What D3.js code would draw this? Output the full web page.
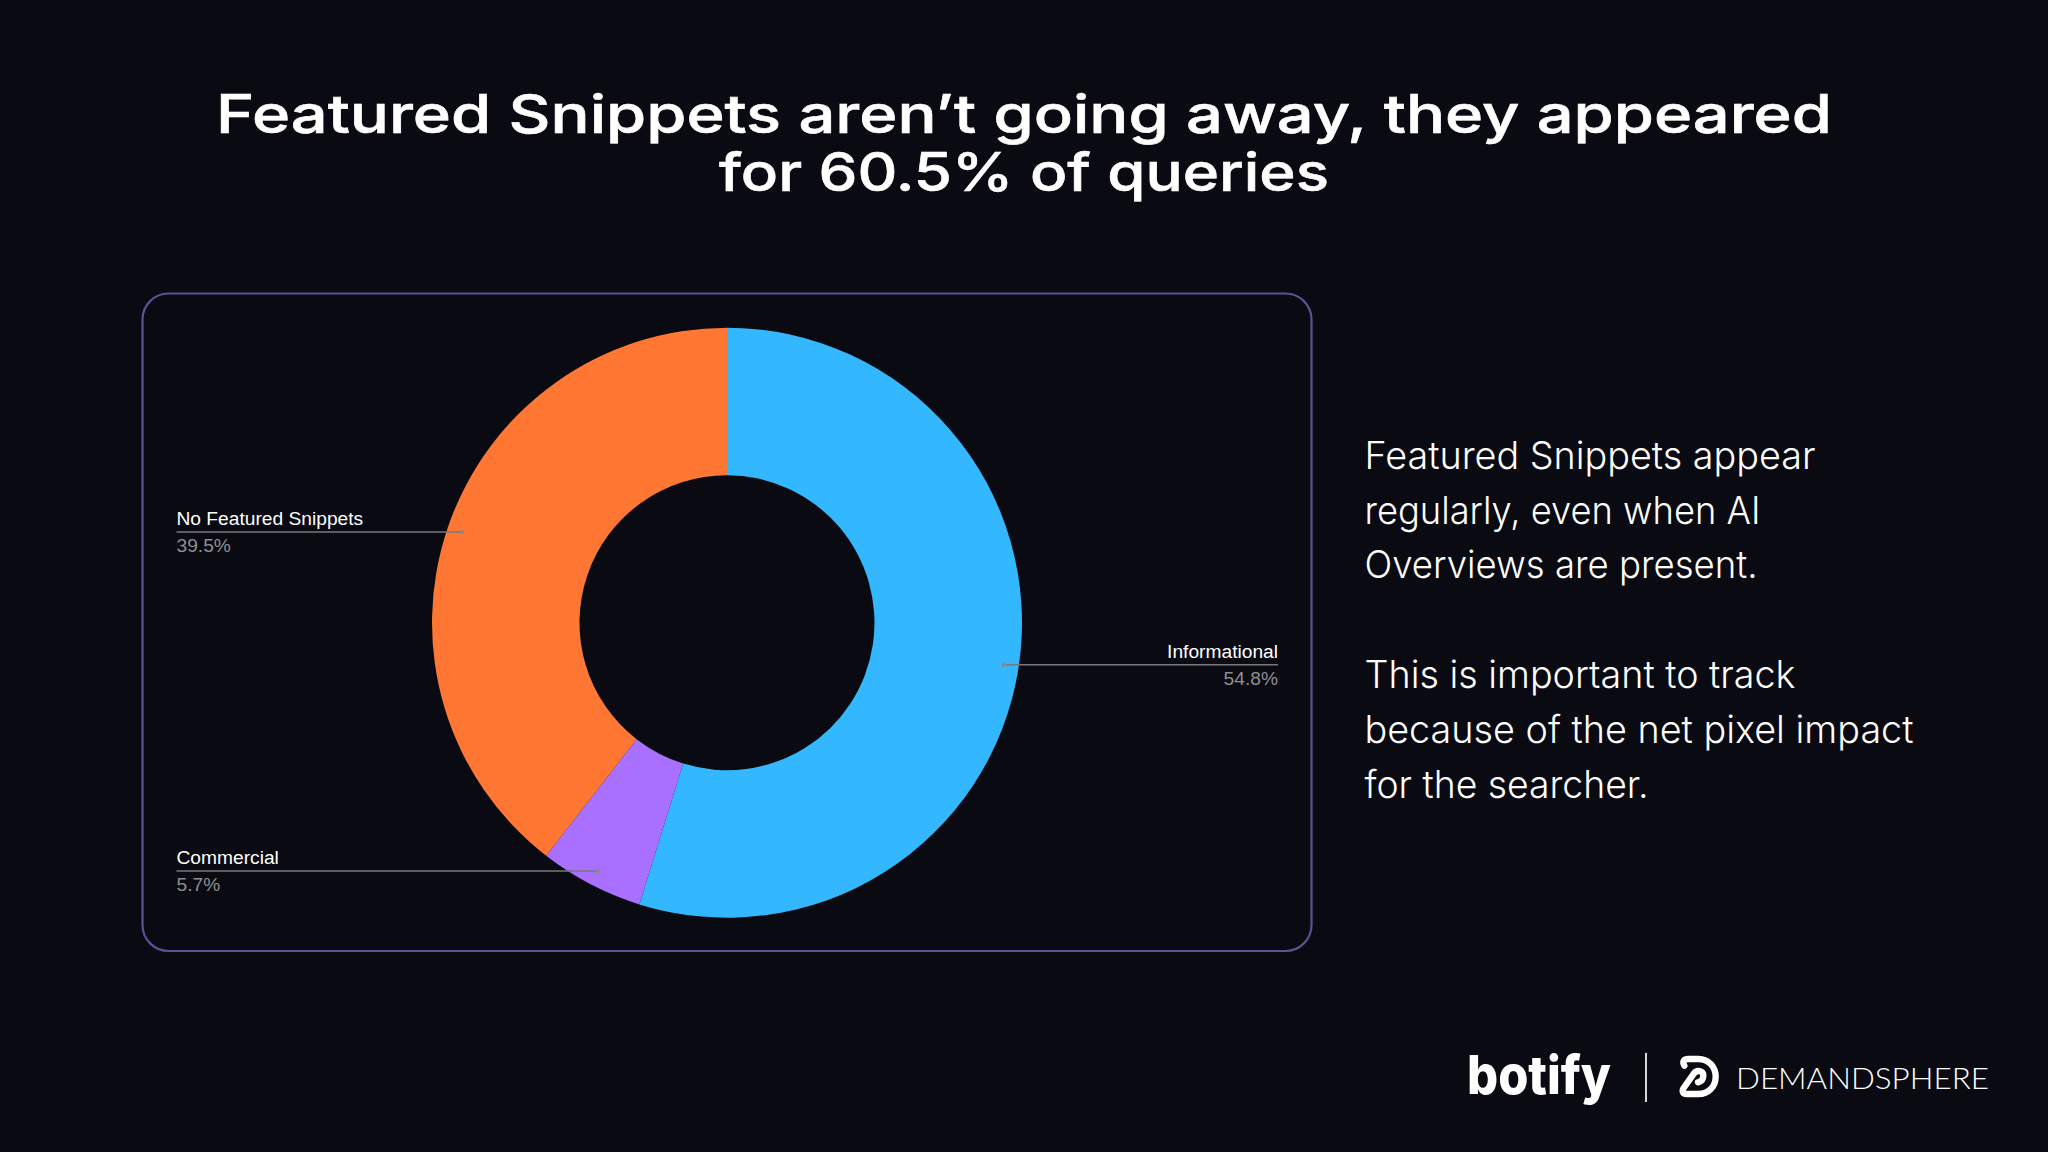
<!DOCTYPE html>
<html>
<head>
<meta charset="utf-8">
<script src="https://cdn.jsdelivr.net/npm/d3@7"></script>
<style>
  html, body { margin: 0; padding: 0; background: #0a0a12; }
  svg { display: block; }
</style>
</head>
<body>
<svg class="chart" width="2048" height="1152"></svg>
<script>
const categories = ['Informational', 'Commercial', 'No Featured Snippets']
const shares = [54.8, 5.7, 39.5]
const colors = ['#33b8ff', '#a970ff', '#ff7733']
// which side of the card each label sits on
const labelSides = ['right', 'left', 'left']

const titleLines = ['Featured Snippets aren’t going away, they appeared', 'for 60.5% of queries']
const titleWidths = [1616, 610]
const bodyLines = [
    'Featured Snippets appear',
    'regularly, even when AI',
    'Overviews are present.',
    '',
    'This is important to track',
    'because of the net pixel impact',
    'for the searcher.'
]
const bodyWidths = [451, 396, 393, 0, 431, 549, 284]

const svg = d3.select('.chart')
const cx = 727, cy = 622.7, outer = 295, inner = 147.5

svg.append('rect')
    .attr('width', 2048)
    .attr('height', 1152)
    .attr('fill', '#0a0a12')

// title
svg.append('g')
    .selectAll('text')
    .data(titleLines)
    .join('text')
        .text(d => d)
        .attr('x', 1024)
        .attr('y', (d, i) => 133 + i * 58)
        .attr('text-anchor', 'middle')
        .attr('textLength', (d, i) => titleWidths[i])
        .attr('lengthAdjust', 'spacingAndGlyphs')
        .attr('font-family', 'Inter')
        .attr('font-weight', 500)
        .attr('font-size', 53)
        .attr('fill', '#ffffff')
        .attr('stroke', '#ffffff')
        .attr('stroke-width', 0.6)

// card
svg.append('rect')
    .attr('x', 142.5)
    .attr('y', 293.5)
    .attr('width', 1169)
    .attr('height', 657.5)
    .attr('rx', 26)
    .attr('fill', 'none')
    .attr('stroke', '#5d5196')
    .attr('stroke-width', 2.2)

// donut
const pie = d3.pie().sort(null).value(d => d.share)
const arc = d3.arc().innerRadius(inner).outerRadius(outer)
const anchorArc = d3.arc().innerRadius(280).outerRadius(280)
const slices = pie(categories.map((name, i) => ({name, share: shares[i], color: colors[i], side: labelSides[i]})))

const donut = svg.append('g').attr('transform', `translate(${cx}, ${cy})`)

donut.selectAll('path')
    .data(slices)
    .join('path')
        .attr('d', arc)
        .attr('fill', d => d.data.color)

// labels with leader lines
const labelLeft = 176.5 - cx, labelRight = 1278 - cx
const label = donut.selectAll('g.label')
    .data(slices)
    .join('g')
        .attr('class', 'label')
        .attr('transform', d => `translate(0, ${anchorArc.centroid(d)[1]})`)

label.append('line')
    .attr('x1', d => anchorArc.centroid(d)[0])
    .attr('x2', d => d.data.side == 'left' ? labelLeft : labelRight)
    .attr('stroke', '#77777c')
    .attr('stroke-width', 1.5)

label.append('circle')
    .attr('cx', d => anchorArc.centroid(d)[0])
    .attr('r', 2.2)
    .attr('fill', '#8a8a8a')

label.append('text')
    .text(d => d.data.name)
    .attr('x', d => d.data.side == 'left' ? labelLeft : labelRight)
    .attr('y', -7)
    .attr('text-anchor', d => d.data.side == 'left' ? 'start' : 'end')
    .attr('font-family', 'Liberation Sans')
    .attr('font-size', 19.2)
    .attr('fill', '#ffffff')

label.append('text')
    .text(d => d3.format('.1f')(d.data.share) + '%')
    .attr('x', d => d.data.side == 'left' ? labelLeft : labelRight)
    .attr('y', 20)
    .attr('text-anchor', d => d.data.side == 'left' ? 'start' : 'end')
    .attr('font-family', 'Liberation Sans')
    .attr('font-size', 19.2)
    .attr('fill', '#8f8f8f')

// paragraph on the right
svg.append('g')
    .selectAll('text')
    .data(bodyLines)
    .join('text')
        .text(d => d)
        .attr('x', 1364.5)
        .attr('y', (d, i) => 468.8 + i * 54.8)
        .attr('textLength', (d, i) => bodyWidths[i] || null)
        .attr('lengthAdjust', 'spacingAndGlyphs')
        .attr('font-family', 'Inter')
        .attr('font-weight', 300)
        .attr('font-size', 38)
        .attr('fill', '#ffffff')

// logos
svg.append('text')
    .text('botify')
    .attr('x', 1467)
    .attr('y', 1094)
    .attr('textLength', 144)
    .attr('lengthAdjust', 'spacingAndGlyphs')
    .attr('font-family', 'Inter')
    .attr('font-weight', 800)
    .attr('font-size', 54)
    .attr('fill', '#ffffff')

svg.append('line')
    .attr('x1', 1646)
    .attr('x2', 1646)
    .attr('y1', 1053)
    .attr('y2', 1102)
    .attr('stroke', '#d8d8d8')
    .attr('stroke-width', 2)

svg.append('path')
    .attr('transform', 'translate(1670, 1045) scale(0.3333)')
    .attr('d', 'M43 62 C36 50 42 42 55 42 L85 42 C118 42 137 68 137 95 C137 124 116 147 85 147 L50 147 C38 147 35 138 41 129 L72 85 C80 74 100 76 100 92 C100 104 92 110 84 112')
    .attr('fill', 'none')
    .attr('stroke', '#ffffff')
    .attr('stroke-width', 19)
    .attr('stroke-linecap', 'round')

svg.append('text')
    .text('DEMANDSPHERE')
    .attr('x', 1736)
    .attr('y', 1089)
    .attr('textLength', 253)
    .attr('lengthAdjust', 'spacingAndGlyphs')
    .attr('font-family', 'Lato')
    .attr('font-weight', 300)
    .attr('font-size', 30)
    .attr('fill', '#ffffff')
</script>
</body>
</html>
